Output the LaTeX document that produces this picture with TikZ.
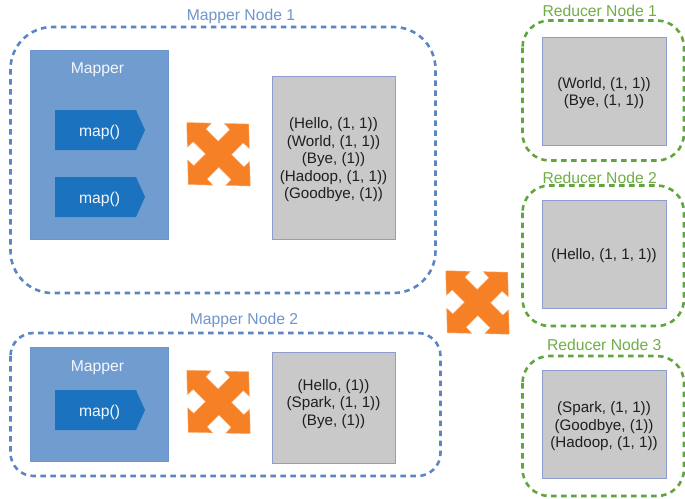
\documentclass[tikz,border=0pt]{standalone}
\usepackage{fontspec}
\setmainfont{Liberation Sans}
\definecolor{nodeblue}{HTML}{5B85C3}
\definecolor{labelblue}{HTML}{6E94CC}
\definecolor{nodegreen}{HTML}{60A53D}
\definecolor{labelgreen}{HTML}{70AD47}
\definecolor{mapperfill}{HTML}{709CD0}
\definecolor{mapperline}{HTML}{6A96CC}
\definecolor{mapfill}{HTML}{1B72BE}
\definecolor{grayfill}{HTML}{C9C9C9}
\definecolor{grayline}{HTML}{8F9CD0}
\definecolor{crossfill}{HTML}{F58026}
\tikzset{
  x=1pt,y=-1pt,
  every node/.style={inner sep=0pt,outer sep=0pt},
  mapperframe/.style={draw=nodeblue,line width=2.6pt,dash pattern=on 5.5pt off 4.5pt},
  reducerframe/.style={draw=nodegreen,line width=2.6pt,dash pattern=on 5.5pt off 4.5pt},
  framelabel/.style={text=labelblue,anchor=center,font=\fontsize{15.7}{18}\selectfont},
  greenlabel/.style={text=labelgreen,anchor=center,font=\fontsize{15.7}{18}\selectfont},
  mapperbox/.style={fill=mapperfill,draw=mapperline,line width=0.7pt},
  mapbox/.style={fill=mapfill},
  mapcaption/.style={text=white!92!mapperfill,anchor=center,font=\fontsize{15.7}{18}\selectfont},
  databox/.style={fill=grayfill,draw=grayline,line width=0.7pt},
  datatext/.style={align=center,text=black!88,font=\fontsize{15.2}{17.5}\selectfont},
  crossmark/.style={fill=crossfill,draw=crossfill!60!white,line width=0.4pt},
  pics/shuffle/.style={code={
    \path[crossmark,cm={1,-0.024,-0.024,1,(0,0)}]
      (-31,-31) -- (-6.5,-31) -- (-12,-25) -- (0,-13) -- (12,-25) -- (6.5,-31)
      -- (31,-31) -- (31,-6.5) -- (25,-12) -- (13,0) -- (25,12) -- (31,6.5)
      -- (31,31) -- (6.5,31) -- (12,25) -- (0,13) -- (-12,25) -- (-6.5,31)
      -- (-31,31) -- (-31,6.5) -- (-25,12) -- (-13,0) -- (-25,-12) -- (-31,-6.5) -- cycle;
  }}
}
\newcommand{\mapshape}[3]{% name, left x, top y
  \path[mapbox] (#2,#3) -- ({#2+81},#3) -- ({#2+90},{#3+20}) -- ({#2+81},{#3+40}) -- (#2,{#3+40}) -- cycle;
  \node[mapcaption] (#1) at ({#2+44.5},{#3+22}) {map()};
}
\begin{document}
\begin{tikzpicture}
\useasboundingbox (0,0) rectangle (685,498);
% frames
\draw[mapperframe,rounded corners=42pt] (10.5,27) rectangle (435.5,293);
\draw[mapperframe,rounded corners=23pt] (10.5,333) rectangle (440.5,476);
\draw[reducerframe,rounded corners=27pt] (522.5,20.5) rectangle (684,160.5);
\draw[reducerframe,rounded corners=27pt] (522.5,185.5) rectangle (684,326);
\draw[reducerframe,rounded corners=27pt] (522.5,356) rectangle (684,496);
\node[framelabel] (m1) at (241,16) {Mapper Node 1};
\node[framelabel] (m2) at (244,320) {Mapper Node 2};
\node[greenlabel] (r1) at (599.7,11) {Reducer Node 1};
\node[greenlabel] (r2) at (599.7,177.5) {Reducer Node 2};
\node[greenlabel] (r3) at (604.3,345) {Reducer Node 3};
% mapper boxes
\path[mapperbox] (30,50) rectangle (168,239);
\node[mapcaption] (c1) at (97.5,69.5) {Mapper};
\mapshape{a1}{55}{110}
\mapshape{a2}{55}{177}
\path[mapperbox] (30,347) rectangle (168,461);
\node[mapcaption] (c2) at (97.5,367.5) {Mapper};
\mapshape{a3}{55}{390}
% data boxes
\path[databox] (272,76) rectangle (395,239);
\node[datatext] (d1) at (333.5,160) {(Hello, (1, 1))\\(World, (1, 1))\\(Bye, (1))\\(Hadoop, (1, 1))\\(Goodbye, (1))};
\path[databox] (272,352) rectangle (395,463);
\node[datatext] (d2) at (333.5,404) {(Hello, (1))\\(Spark, (1, 1))\\(Bye, (1))};
\path[databox] (542.3,37) rectangle (666.7,145.5);
\node[datatext] (d3) at (604,93) {(World, (1, 1))\\(Bye, (1, 1))};
\path[databox] (542.3,200) rectangle (666.7,308.7);
\node[datatext] (d4) at (604,256) {(Hello, (1, 1, 1))};
\path[databox] (542.3,370.7) rectangle (666.7,478.7);
\node[datatext] (d5) at (604,426.5) {(Spark, (1, 1))\\(Goodbye, (1))\\(Hadoop, (1, 1))};
% shuffles
\pic at (218.5,154.3) {shuffle};
\pic at (477.5,302.5) {shuffle};
\pic at (218.5,402) {shuffle};
\end{tikzpicture}
\end{document}
